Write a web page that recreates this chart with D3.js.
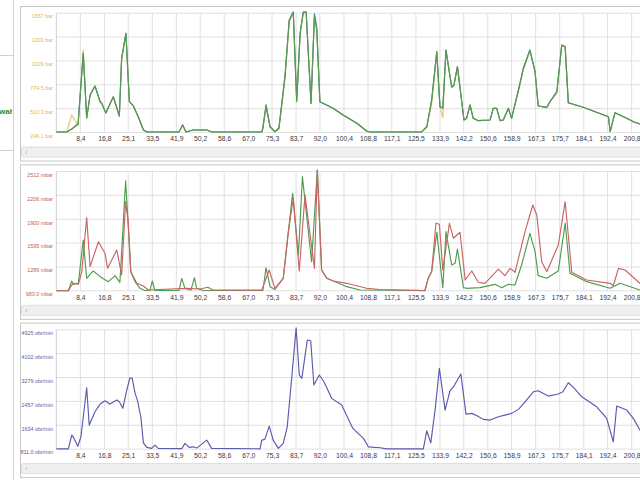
<!DOCTYPE html>
<html><head><meta charset="utf-8">
<script src="https://cdn.jsdelivr.net/npm/d3@7"></script>
<style>body{margin:0;background:#fff;overflow:hidden}svg{display:block;font-family:"Liberation Sans",Arial,sans-serif}</style>
</head><body><svg id="c" width="640" height="480"></svg>
<script>
// ---- shared x axis ----
const xTickLabels = ["8,4","16,8","25,1","33,5","41,9","50,2","58,6","67,0","75,3","83,7","92,0","100,4","108,8","117,1","125,5","133,9","142,2","150,6","158,9","167,3","175,7","184,1","192,4","200,8"];

// ---- panel 1: pressure (bar) ----
const p1YTicks = [246.1, 510.3, 774.5, 1038.7, 1302.9, 1567.1];
const p1YLabels = ["246.1 bar","510.3 bar","774.5 bar","1039 bar","1303 bar","1567 bar"];
const p1Time = [0,3.6,5.4,7.6,9.4,10.6,11.8,13.5,15.3,15.8,17.3,19.9,22.0,22.8,24.3,25.5,26.9,28.6,30.4,31.7,42.8,44.1,45.3,47.7,52.6,54.3,71.7,72.1,73.2,74.6,76.3,77.7,79.8,81.3,82.7,83.9,85.1,86.2,87.2,88.9,90.1,90.9,92.0,96.6,100.1,104.9,108.3,109.5,127.5,129.3,131.0,132.8,133.9,134.9,136.0,136.8,138.0,138.8,140.0,141.5,142.3,143.2,144.4,145.5,147.3,151.4,152.5,153.7,154.9,156.0,157.8,158.9,161.3,163.0,165.3,167.1,168.2,171.2,172.3,174.7,176.4,177.6,178.7,183.9,192.7,193.3,195.0,199.1,201.4,203.7,207.6];
const p1Green = [252,252,285,340,1123,407,661,761,587,573,462,642,429,1071,1344,587,540,421,274,252,252,329,252,274,274,252,252,296,551,310,255,296,864,1492,1580,587,1348,1580,1580,569,1547,1381,587,514,440,348,263,252,252,310,606,1141,532,517,1159,993,747,772,975,587,385,403,551,403,377,385,514,514,377,385,514,403,717,957,1159,919,540,525,587,698,1215,1196,576,525,421,255,465,403,366,340,318];
const p1Blue  = [252,252,285,340,1123,407,661,761,587,573,462,642,429,1071,1344,587,540,421,274,252,252,329,252,274,274,252,252,296,551,310,255,296,864,1492,1580,600,1348,1580,1580,569,1560,1420,587,514,440,348,263,252,252,310,606,1141,532,517,1159,993,747,772,975,587,385,403,551,403,377,385,514,514,377,385,514,403,717,957,1159,919,540,525,587,698,1215,1196,576,525,421,255,465,403,366,340,318];
const p1Orange= [252,252,440,320,1160,407,661,761,587,573,462,642,429,1040,1344,587,540,421,274,252,252,329,252,274,274,252,252,290,520,310,255,280,830,1470,1570,600,1320,1570,1570,569,1530,1381,587,514,440,348,263,252,252,300,560,1110,532,407,1159,993,747,772,975,587,385,403,551,403,377,385,514,514,377,385,514,403,700,940,1150,919,540,525,587,680,1200,1196,576,525,421,255,465,403,366,340,318];

// ---- panel 2: pressure (mbar) ----
const p2YTicks = [983.0, 1288.8, 1594.6, 1900.4, 2206.2, 2512];
const p2YLabels = ["983.0 mbar","1289 mbar","1595 mbar","1900 mbar","2206 mbar","2512 mbar"];
const p2RedTime = [0,4.2,5.4,6.5,7.7,8.9,10.6,11.8,14.7,17.0,17.9,21.1,22.8,24.2,25.1,26.0,28.1,30.4,32.1,45.5,50.2,52.9,54.7,71.7,74.3,76.3,79.2,81.0,82.7,84.8,86.8,90.1,91.1,92.6,94.4,96.7,101.4,108.3,113.0,128.7,129.8,131.0,132.5,133.7,134.9,137.2,138.6,139.8,140.9,142.7,145.0,147.3,149.6,154.3,156.6,158.4,160.1,163.6,166.3,167.7,169.4,171.2,175.2,177.6,179.9,185.1,193.3,194.4,196.2,198.5,203.7,207.6];
const p2Red = [984,984,1057,1079,1066,1228,1920,1292,1612,1464,1271,1506,1186,2125,1869,1228,1079,1045,993,1015,1006,1028,993,991,1250,1015,1143,1741,2169,1237,2211,1271,2530,1250,1143,1109,1079,1015,1000,986,1143,1228,1848,1836,1250,1848,1656,1698,1733,1121,1237,1092,1079,1262,1177,1271,1220,1741,2083,1955,1356,1228,1570,2125,1220,1121,1079,1048,1271,1250,1079,1032];
const p2GreenTime = [0,4.2,5.4,5.9,7.7,9.4,10.6,12.9,15.3,18.2,20.5,22.2,24.2,25.1,26.0,27.5,29.2,31.0,32.7,33.5,34.4,42.8,43.8,44.9,47.0,48.2,49.0,51.3,72.1,73.2,74.6,76.3,79.2,81.0,82.5,84.5,85.9,89.1,91.1,92.6,94.4,96.7,101.4,106.0,128.6,129.8,131.0,132.8,134.9,136.0,138.0,139.2,140.0,142.1,143.2,147.9,153.1,155.5,157.8,160.1,162.4,165.3,167.1,168.2,171.2,175.2,177.6,179.3,185.1,193.3,196.8,203.7,207.6];
const p2Green = [984,984,1109,1066,1079,1634,1143,1237,1164,1100,1177,1092,2391,1827,1228,1100,1015,987,987,1109,987,987,1143,1015,991,1151,1015,987,987,1279,1036,1000,1143,1741,2233,1442,2446,1356,2530,1250,1143,1109,1036,993,987,1143,1228,1733,1023,1741,1314,1336,1519,1023,1015,1023,1066,1023,1066,1057,1314,1720,1484,1177,1143,1237,1848,1207,1100,1015,1079,993,987];

// ---- panel 3: rotation speed (obr/min) ----
const p3YTicks = [811.0, 1633.8, 2456.6, 3279.4, 4102.2, 4925];
const p3YLabels = ["811.0 obr/min","1634 obr/min","2457 obr/min","3279 obr/min","4102 obr/min","4925 obr/min"];
const p3Time = [0,4.2,5.4,6.2,7.5,8.6,10.6,11.5,13.5,15.3,17.0,18.7,21.1,22.0,23.2,24.6,25.7,26.5,27.5,28.3,29.5,30.4,31.6,33.3,34.4,35.6,43.8,44.9,46.4,47.8,49.0,52.5,54.2,71.1,71.7,72.8,74.3,75.7,77.5,79.2,80.6,82.2,83.7,84.8,85.7,87.6,88.8,89.9,91.8,93.4,96.1,99.6,103.5,107.2,108.9,113.0,115.3,128.1,129.3,130.7,132.2,133.7,135.7,137.4,138.8,141.2,143.0,145.0,147.0,149.0,151.4,154.3,156.6,158.9,161.3,163.6,166.5,168.2,171.7,175.2,176.8,178.7,180.5,183.4,188.6,192.1,194.4,195.6,199.1,201.4,203.7,207.6];
const p3Speed = [821,821,1294,1180,911,1235,2927,1639,2098,2364,2478,2364,2502,2443,2216,2847,3272,3251,2733,2502,1926,1028,870,835,949,835,828,1008,870,890,846,1122,835,821,1122,1146,1605,1122,835,1008,1581,3306,4990,3365,3251,4572,4548,3020,3365,3134,2561,2329,1525,1180,890,856,821,821,1443,1028,2157,3596,2157,2823,2985,3399,2019,2043,1950,1836,1812,1926,1984,2043,2181,2443,2788,2823,2640,2709,2788,3099,2940,2616,2271,1870,1063,2295,2157,1870,1467,949];

const xTickVals = xTickLabels.map(s => +s.replace(",", "."));

const svg = d3.select("#c");
const x = d3.scaleLinear().domain([0, 209.2]).range([56.3, 655.7]);

// left side strip
svg.append("line").attr("x1",13.5).attr("x2",13.5).attr("y1",0).attr("y2",480).attr("stroke","#cfcfcf");
[55.5,150.5].forEach(v=>svg.append("line").attr("x1",0).attr("x2",13.5).attr("y1",v).attr("y2",v).attr("stroke","#cfcfcf"));
svg.append("text").attr("x",12).attr("y",114).attr("text-anchor","end").attr("font-size",8).attr("font-weight","bold").attr("fill","#2e8b2e").text("wał");

function panel(top, yDomain, yTicks, yLabels, labelColor, series) {
  const plotTop = top + 7.2, plotBottom = top + 126.5;
  svg.append("rect").attr("x",20.5).attr("y",top+0.5).attr("width",660).attr("height",plotBottom + 28 - top)
     .attr("fill","#fff").attr("stroke","#c6c6c6");
  const y = d3.scaleLinear().domain(yDomain).range([plotBottom, plotTop]);
  const g = svg.append("g");
  g.selectAll("line.h").data(yTicks).join("line").attr("class","h")
    .attr("x1", x(0)).attr("x2", 660).attr("y1", d => y(d)).attr("y2", d => y(d))
    .attr("stroke", "#e0e0e0").attr("stroke-width", 1);
  g.selectAll("line.v").data([0, ...xTickVals]).join("line").attr("class","v")
    .attr("x1", d => x(d)).attr("x2", d => x(d)).attr("y1", plotTop).attr("y2", plotBottom)
    .attr("stroke", d => d === 0 ? "#cfcfcf" : "#e0e0e0").attr("stroke-width", 1);
  g.selectAll("text.yl").data(yTicks).join("text").attr("class","yl")
    .attr("x", 53).attr("y", d => y(d) + 3.4).attr("dy","0.35em")
    .attr("text-anchor","end").attr("font-size", 5.4).attr("fill", labelColor)
    .text((d,i) => yLabels[i]);
  const ax = svg.append("g").attr("transform", `translate(0,${plotBottom})`)
    .call(d3.axisBottom(x).tickValues(xTickVals).tickSize(0).tickPadding(4).tickFormat((d,i)=>xTickLabels[i]));
  ax.select(".domain").remove();
  ax.selectAll("text").attr("font-size", 6.8).attr("fill", "#3a3a3a").attr("font-family","Liberation Sans, Arial, sans-serif");
  series.forEach(s => {
    const pts = s.t.map((t,i)=>[t, s.v[i]]);
    svg.append("path").datum(pts)
      .attr("d", d3.line().x(d=>x(d[0])).y(d=>y(d[1])))
      .attr("fill","none").attr("stroke", s.color).attr("stroke-width", s.w || 1.15)
      .attr("stroke-linejoin","round");
  });
  svg.append("rect").attr("x",21.5).attr("y",plotBottom+14.5).attr("width",660).attr("height",10)
    .attr("rx",2).attr("fill","#efefef").attr("stroke","#dcdcdc");
  svg.append("text").attr("x",25).attr("y",plotBottom+22).attr("font-size",8).attr("fill","#b0b0b0").text("‹");
}

panel(6, [246.1, 1567.1], p1YTicks, p1YLabels, "#e0b84a", [
  {t:p1Time, v:p1Orange, color:"#e8c466"},
  {t:p1Time, v:p1Blue, color:"#3f8fb4"},
  {t:p1Time, v:p1Green, color:"#5a9a4c"}
]);
panel(164.3, [983, 2512], p2YTicks, p2YLabels, "#c65a5a", [
  {t:p2GreenTime, v:p2Green, color:"#4f9c4f"},
  {t:p2RedTime, v:p2Red, color:"#c86464"}
]);
panel(322.6, [811, 4925], p3YTicks, p3YLabels, "#5a5a9c", [
  {t:p3Time, v:p3Speed, color:"#5a5aae"}
]);
</script></body></html>
